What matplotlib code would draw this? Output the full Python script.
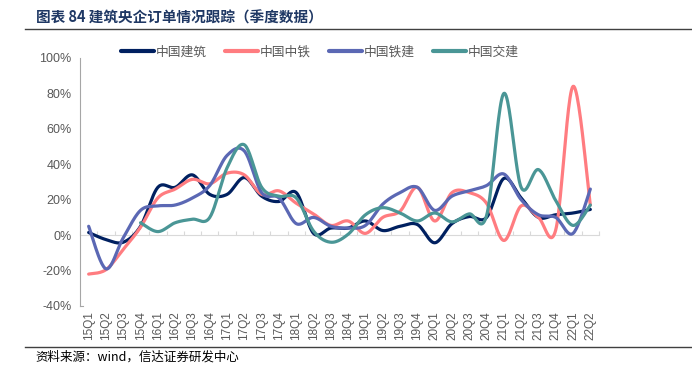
import numpy as np
import matplotlib
matplotlib.use('Agg')
import matplotlib.pyplot as plt
from matplotlib.lines import Line2D

plt.rcParams['font.family'] = ['Liberation Sans', 'Noto Sans CJK SC', 'DejaVu Sans']

quarters = ['15Q1', '15Q2', '15Q3', '15Q4', '16Q1', '16Q2', '16Q3', '16Q4',
            '17Q1', '17Q2', '17Q3', '17Q4', '18Q1', '18Q2', '18Q3', '18Q4',
            '19Q1', '19Q2', '19Q3', '19Q4', '20Q1', '20Q2', '20Q3', '20Q4',
            '21Q1', '21Q2', '21Q3', '21Q4', '22Q1', '22Q2']

cscec = [1.5, -2.5, -4, 5, 27, 27, 34, 23, 23, 32.5, 22, 19, 24, 1, 4, 4,
         8, 2.6, 5, 6, -4.3, 6.5, 10.5, 10, 32, 21, 10, 11.5, 12.5, 14.5]
crec = [-22, -19.5, -8, 4.5, 21, 26, 31.5, 29, 35, 34, 23, 25, 18, 12, 5.5, 8,
        1, 10, 13.5, 27, 8, 24, 24, 18, -3, 16.5, 10, 3, 84, 17]
crcc = [5, -19, -1.5, 14, 16.5, 17, 21, 28, 45, 47.5, 24, 21, 6.5, 10, 5, 4,
        5.5, 17.5, 24, 27, 14, 22, 25, 28, 34.5, 20, 11.5, 10, 1, 26]
cccc = [np.nan, np.nan, np.nan, 7, 2, 7, 9, 10, 38, 51, 27, 22, 21, 2.3, -4, 0.5,
        11.5, 15.5, 12.5, 8, 12.5, 7.5, 12, 11, 80, 27, 37, 19.5, 5.5, 17]

series = [('中国建筑', cscec, '#002060'),
          ('中国中铁', crec, '#FF7C80'),
          ('中国铁建', crcc, '#5B68B4'),
          ('中国交建', cccc, '#4A9696')]


def smooth(xs, ys, n=24):
    x = np.asarray(xs, float)
    y = np.asarray(ys, float)
    m = ~np.isnan(y)
    x, y = x[m], y[m]
    P = np.column_stack([x, y])
    t = np.linspace(0, 1, n)[:, None]
    out = []
    for i in range(len(P) - 1):
        p0, p3 = P[i], P[i + 1]
        pp = P[i - 1] if i > 0 else P[i]
        pn = P[i + 2] if i + 2 < len(P) else P[i + 1]
        c1 = p0 + (p3 - pp) / 6.0
        c2 = p3 - (pn - p0) / 6.0
        seg = ((1 - t) ** 3) * p0 + 3 * ((1 - t) ** 2) * t * c1 + 3 * (1 - t) * t ** 2 * c2 + t ** 3 * p3
        out.append(seg if i == 0 else seg[1:])
    out = np.vstack(out)
    return out[:, 0], out[:, 1]


fig = plt.figure(figsize=(6.92, 3.77), dpi=100)
ax = fig.add_axes([80 / 692, 1 - 306 / 377, 519 / 692, 248 / 377])

xpos = np.arange(len(quarters))
for name, vals, col in series:
    sx, sy = smooth(xpos, vals)
    ax.plot(sx, sy, color=col, lw=2.3, label=name, solid_capstyle='round')

ax.set_xlim(-0.5, len(quarters) - 0.5)
ax.set_ylim(-40, 100)
ax.set_yticks(np.arange(-40, 101, 20))
ax.set_yticklabels([f'{v}%' for v in range(-40, 101, 20)], fontsize=9, color='#595959')
ax.set_xticks(xpos)
ax.set_xticklabels(quarters, rotation=90, fontsize=8.5, color='#595959')
ax.tick_params(axis='x', length=0, pad=4)
ax.tick_params(axis='y', length=0, pad=6)
for s in ['top', 'right']:
    ax.spines[s].set_visible(False)
ax.spines['left'].set_color('#A6A6A6')
ax.spines['left'].set_linewidth(0.8)
ax.spines['bottom'].set_color('#A6A6A6')
ax.spines['bottom'].set_linewidth(0.8)
ax.spines['bottom'].set_bounds(-0.5, -0.3)

# category axis line crossing at 0
sec = ax.secondary_xaxis(40 / 140)
sec.set_xticks(np.arange(-0.5, len(quarters), 1.0))
sec.set_xticklabels([])
sec.tick_params(length=3, direction='in', color='#D9D9D9')
for s in sec.spines.values():
    s.set_color('#D9D9D9')

leg = fig.legend(loc='center', bbox_to_anchor=(320 / 692, 1 - 52 / 377), ncol=4,
                 frameon=False, prop={'family': ['Noto Sans CJK SC'], 'size': 9.2},
                 handlelength=2.6, handletextpad=0.15, columnspacing=1.4)
for t in leg.get_texts():
    t.set_color('#595959')
for h in leg.legend_handles:
    h.set_linewidth(3)

fig.text(36 / 692, 1 - 18 / 377, '图表 84 建筑央企订单情况跟踪（季度数据）', fontsize=10.5,
         fontweight='bold', color='#1F3864', family=['Noto Sans CJK SC'], va='center', ha='left')
fig.add_artist(Line2D([25 / 692, 1.0], [1 - 29 / 377] * 2, color='#404040', lw=1))
fig.add_artist(Line2D([25 / 692, 1.0], [1 - 347 / 377] * 2, color='#404040', lw=1))
fig.text(35 / 692, 1 - 357 / 377, '资料来源：wind，信达证券研发中心', fontsize=9,
         color='#000000', family=['Noto Sans CJK SC'], va='center', ha='left', style='italic')

fig.savefig('out.png', dpi=100)
